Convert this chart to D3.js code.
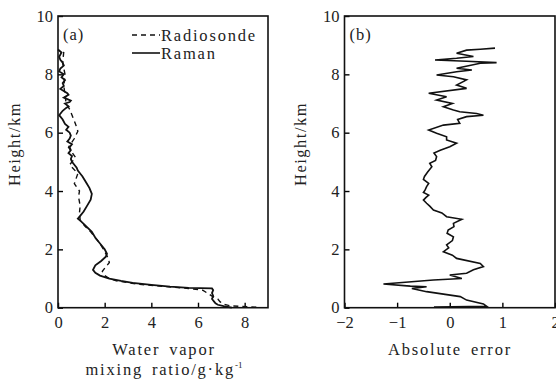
<!DOCTYPE html>
<html>
<head>
<meta charset="utf-8">
<script src="https://cdn.jsdelivr.net/npm/d3@7"></script>
<style>
  body { margin: 0; background: #fff; }
  svg { display: block; font-family: "Liberation Serif", "DejaVu Serif", serif; }
</style>
</head>
<body>
<svg id="chart" width="556" height="379"></svg>
<script>
// heights in km
const ramanHeight = [0.0, 0.05, 0.1, 0.15, 0.2, 0.3, 0.4, 0.5, 0.6, 0.66, 0.68, 0.72, 0.78, 0.85, 0.92, 1.0, 1.1, 1.2, 1.3, 1.45, 1.6, 1.75, 1.85, 2.0, 2.2, 2.4, 2.6, 2.8, 2.95, 3.05, 3.15, 3.3, 3.5, 3.7, 3.9, 4.1, 4.3, 4.5, 4.6, 4.7, 4.8, 4.9, 5.0, 5.1, 5.2, 5.3, 5.4, 5.5, 5.6, 5.7, 5.8, 5.9, 6.0, 6.1, 6.2, 6.3, 6.45, 6.6, 6.75, 6.85, 6.9, 7.0, 7.05, 7.1, 7.2, 7.3, 7.35, 7.5, 7.6, 7.7, 7.8, 7.9, 8.0, 8.1, 8.2, 8.3, 8.4, 8.5, 8.6, 8.75, 8.85];
const ramanValue = [7.45, 7.1, 6.85, 6.75, 6.7, 6.6, 6.65, 6.6, 6.65, 6.6, 5.6, 4.8, 4.0, 3.2, 2.7, 2.2, 1.8, 1.6, 1.5, 1.6, 1.85, 2.05, 2.1, 2.0, 1.8, 1.6, 1.45, 1.2, 1.0, 0.85, 0.95, 1.1, 1.25, 1.4, 1.45, 1.35, 1.2, 1.05, 0.95, 0.85, 0.8, 0.7, 0.6, 0.55, 0.6, 0.45, 0.55, 0.5, 0.6, 0.4, 0.5, 0.55, 0.5, 0.35, 0.45, 0.3, 0.2, 0.05, 0.2, 0.35, 0.45, 0.3, 0.5, 0.55, 0.25, 0.45, 0.4, 0.1, 0.25, 0.2, 0.3, 0.15, 0.25, 0.05, 0.1, 0.25, 0.2, 0.1, 0.05, 0.15, 0.0];

const sondeHeight = [0.02, 0.06, 0.12, 0.2, 0.3, 0.4, 0.5, 0.6, 0.66, 0.7, 0.75, 0.8, 0.86, 0.92, 1.0, 1.1, 1.25, 1.4, 1.55, 1.7, 1.85, 2.0, 2.2, 2.4, 2.6, 2.8, 3.0, 3.25, 3.5, 3.8, 4.0, 4.25, 4.6, 4.9, 5.15, 5.5, 5.8, 6.05, 6.3, 6.5, 6.8, 7.0, 7.3, 7.6, 8.0, 8.4, 8.8];
const sondeValue = [8.5, 7.4, 7.1, 6.95, 6.85, 6.6, 6.4, 6.2, 5.6, 5.0, 4.2, 3.5, 3.0, 2.5, 2.2, 2.0, 1.9, 2.05, 2.2, 2.15, 2.05, 1.95, 1.8, 1.6, 1.4, 1.15, 0.95, 0.92, 0.95, 0.88, 0.92, 0.7, 0.85, 0.5, 0.75, 0.45, 0.7, 0.85, 0.75, 0.65, 0.5, 0.35, 0.3, 0.25, 0.3, 0.2, 0.25];

const errorHeight = [0.02, 0.05, 0.13, 0.26, 0.38, 0.55, 0.66, 0.72, 0.74, 0.81, 0.95, 1.0, 1.12, 1.18, 1.3, 1.41, 1.52, 1.69, 1.8, 1.92, 2.05, 2.15, 2.3, 2.43, 2.55, 2.66, 2.78, 2.89, 3.03, 3.12, 3.25, 3.35, 3.48, 3.58, 3.69, 3.78, 3.86, 3.95, 4.03, 4.15, 4.26, 4.4, 4.5, 4.65, 4.83, 4.95, 5.05, 5.18, 5.3, 5.4, 5.52, 5.64, 5.75, 5.86, 5.98, 6.09, 6.26, 6.32, 6.45, 6.55, 6.6, 6.66, 6.72, 6.78, 6.89, 7.0, 7.12, 7.23, 7.35, 7.52, 7.63, 7.81, 7.92, 7.98, 8.09, 8.15, 8.21, 8.38, 8.4, 8.45, 8.49, 8.55, 8.61, 8.72, 8.83, 8.86, 8.9];
const errorValue = [-0.3, 0.7, 0.64, 0.32, 0.2, -0.44, -0.72, -0.44, -0.75, -1.26, -0.31, 0.23, 0.0, 0.32, 0.45, 0.64, 0.58, 0.13, 0.05, -0.12, -0.02, -0.06, 0.05, 0.07, -0.05, -0.03, 0.08, 0.07, 0.23, -0.06, -0.15, -0.31, -0.38, -0.44, -0.5, -0.45, -0.4, -0.5, -0.47, -0.44, -0.4, -0.5, -0.48, -0.42, -0.34, -0.38, -0.27, -0.25, -0.3, -0.18, 0.0, 0.13, -0.06, -0.06, -0.25, -0.4, -0.12, 0.19, 0.15, 0.32, 0.64, 0.51, 0.19, 0.07, -0.12, 0.05, -0.25, -0.06, -0.4, 0.32, 0.13, 0.32, 0.07, -0.25, 0.13, 0.42, 0.13, 0.58, 0.89, 0.32, -0.28, 0.13, 0.45, 0.13, 0.32, 0.58, 0.86];

const yTicks = [0, 2, 4, 6, 8, 10];
const ticksLeft = [0, 2, 4, 6, 8];
const ticksRight = [-2, -1, 0, 1, 2];

const svg = d3.select("#chart");
const plotTop = 16, plotBottom = 307.7;
const fontSize = 16.5;

function drawPanel(x0, x1, xDomain, xTicks, tag) {
    const x = d3.scaleLinear().domain(xDomain).range([x0, x1]);
    const y = d3.scaleLinear().domain([0, 10]).range([plotBottom, plotTop]);
    const g = svg.append("g");

    g.append("g")
        .attr("transform", `translate(0,${plotBottom})`)
        .call(d3.axisBottom(x).tickValues(xTicks).tickSize(-5).tickPadding(9).tickFormat(d => d < 0 ? "\u2212" + Math.abs(d) : d))
        .call(a => a.select(".domain").remove())
        .call(a => a.selectAll("line").attr("stroke-width", 1.4))
        .call(a => a.selectAll("text").attr("font-size", fontSize).attr("font-family", "Liberation Serif").attr("fill", "#222"));

    g.append("g")
        .attr("transform", `translate(${x0},0)`)
        .call(d3.axisLeft(y).tickValues(yTicks).tickSize(-5).tickPadding(5))
        .call(a => a.select(".domain").remove())
        .call(a => a.selectAll("line").attr("stroke-width", 1.4))
        .call(a => a.selectAll("text").attr("font-size", fontSize).attr("font-family", "Liberation Serif").attr("fill", "#222"));

    // frame
    g.append("rect")
        .attr("x", x0).attr("y", plotTop)
        .attr("width", x1 - x0).attr("height", plotBottom - plotTop)
        .attr("fill", "none").attr("stroke", "#111").attr("stroke-width", 1.6);

    g.append("text").attr("x", x0 + 5).attr("y", 40)
        .attr("font-size", fontSize).attr("letter-spacing", 1).attr("fill", "#222").text(tag);

    return { x: x, y: y, g: g };
}

const left = drawPanel(58, 268, [0, 9], ticksLeft, "(a)");
const right = drawPanel(344.5, 555, [-2, 2], ticksRight, "(b)");

const lineL = d3.line().x(d => left.x(d[1])).y(d => left.y(d[0]));
const lineR = d3.line().x(d => right.x(d[1])).y(d => right.y(d[0]));

left.g.append("path")
    .datum(d3.zip(sondeHeight, sondeValue))
    .attr("d", lineL)
    .attr("fill", "none").attr("stroke", "#111").attr("stroke-width", 1.4)
    .attr("stroke-dasharray", "5,4");

left.g.append("path")
    .datum(d3.zip(ramanHeight, ramanValue))
    .attr("d", lineL)
    .attr("fill", "none").attr("stroke", "#111").attr("stroke-width", 1.8);

right.g.append("path")
    .datum(d3.zip(errorHeight, errorValue))
    .attr("d", lineR)
    .attr("fill", "none").attr("stroke", "#111").attr("stroke-width", 1.6);

// legend
const legend = [{ name: "Radiosonde", dash: "5,4", y: 35 }, { name: "Raman", dash: null, y: 53 }];
legend.forEach(function (l) {
    svg.append("line")
        .attr("x1", 132).attr("x2", 160).attr("y1", l.y).attr("y2", l.y)
        .attr("stroke", "#111").attr("stroke-width", 1.6)
        .attr("stroke-dasharray", l.dash);
    svg.append("text").attr("x", 161).attr("y", l.y + 6)
        .attr("font-size", fontSize).attr("fill", "#222").attr("letter-spacing", 1.8).text(l.name);
});

// axis titles
[20, 306].forEach(function (cx) {
    svg.append("text")
        .attr("transform", `translate(${cx},144) rotate(-90)`)
        .attr("text-anchor", "middle").attr("font-size", fontSize).attr("fill", "#222")
        .attr("letter-spacing", 1.5)
        .text("Height/km");
});

svg.append("text").attr("x", 164).attr("y", 355).attr("text-anchor", "middle")
    .attr("font-size", fontSize).attr("fill", "#222").attr("letter-spacing", 1.8).attr("word-spacing", 3).text("Water vapor");
const t2 = svg.append("text").attr("x", 164).attr("y", 375).attr("text-anchor", "middle")
    .attr("font-size", fontSize).attr("fill", "#222").attr("letter-spacing", 1.8).attr("word-spacing", 3);
t2.append("tspan").text("mixing ratio/g\u00b7kg");
t2.append("tspan").attr("dy", -7).attr("font-size", 9).attr("letter-spacing", 0).text("-1");

svg.append("text").attr("x", 450).attr("y", 355).attr("text-anchor", "middle")
    .attr("font-size", fontSize).attr("fill", "#222").attr("letter-spacing", 1.8).attr("word-spacing", 3).text("Absolute error");
</script>
</body>
</html>
